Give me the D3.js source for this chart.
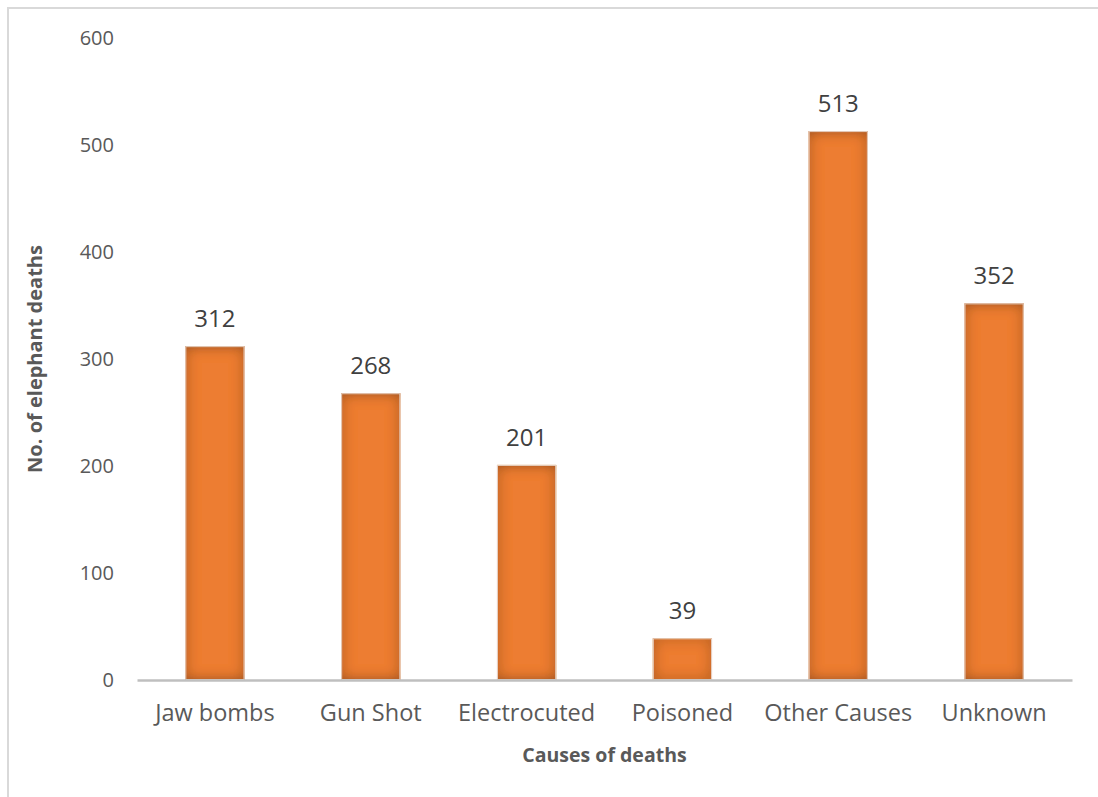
<!DOCTYPE html>
<html>
<head>
<meta charset="utf-8">
<script src="https://cdn.jsdelivr.net/npm/d3@7"></script>
<style>
  html, body { margin: 0; padding: 0; background: #fff; }
  svg { display: block; }
</style>
</head>
<body>
<svg id="chart" width="1098" height="797"></svg>
<script>
// Elephant deaths by cause
const categories = ["Jaw bombs", "Gun Shot", "Electrocuted", "Poisoned", "Other Causes", "Unknown"];
const deaths = [312, 268, 201, 39, 513, 352];
const yTicks = [0, 100, 200, 300, 400, 500, 600];

const svg = d3.select("#chart");
const W = 1098, H = 797;
const font = "'Open Sans', 'Liberation Sans', sans-serif";

// Outer chart frame
svg.append("rect")
  .attr("x", 8).attr("y", 8)
  .attr("width", W + 10).attr("height", H + 10)
  .attr("fill", "#fff")
  .attr("stroke", "#d9d9d9").attr("stroke-width", 2);

// Inner shadow for the bars
const defs = svg.append("defs");
const f = defs.append("filter").attr("id", "innerShade")
  .attr("x", "-10%").attr("y", "-10%").attr("width", "120%").attr("height", "120%");
f.append("feFlood").attr("flood-color", "#5a3218").attr("flood-opacity", 0.9).attr("result", "c");
f.append("feComposite").attr("in", "c").attr("in2", "SourceAlpha").attr("operator", "out").attr("result", "outside");
f.append("feGaussianBlur").attr("in", "outside").attr("stdDeviation", 7).attr("result", "blur");
f.append("feComposite").attr("in", "blur").attr("in2", "SourceAlpha").attr("operator", "in").attr("result", "shade");
const m = f.append("feMerge");
m.append("feMergeNode").attr("in", "SourceGraphic");
m.append("feMergeNode").attr("in", "shade");

const margin = { left: 137, right: 26, top: 38, bottom: 117 };
const x = d3.scaleBand()
  .domain(categories)
  .range([margin.left, W - margin.right])
  .paddingInner(0.62).paddingOuter(0.31);
const y = d3.scaleLinear()
  .domain([0, 600])
  .range([H - margin.bottom, margin.top]);

// Y axis tick labels (no line)
const yAxis = svg.append("g")
  .attr("transform", `translate(${margin.left},0)`)
  .call(d3.axisLeft(y).tickValues(yTicks).tickSize(0).tickPadding(23));
yAxis.select(".domain").remove();
yAxis.selectAll("text")
  .attr("font-family", font).attr("font-size", 20).attr("fill", "#595959");

// Bars
svg.append("g").selectAll("rect")
  .data(categories)
  .join("rect")
  .attr("x", d => x(d))
  .attr("y", (d, i) => y(deaths[i]))
  .attr("width", x.bandwidth())
  .attr("height", (d, i) => y(0) - y(deaths[i]))
  .attr("fill", "#ED7D31")
  .attr("filter", "url(#innerShade)");

svg.append("g").selectAll("rect")
  .data(categories)
  .join("rect")
  .attr("x", d => x(d) + 0.5)
  .attr("y", (d, i) => y(deaths[i]) + 0.5)
  .attr("width", x.bandwidth() - 1)
  .attr("height", (d, i) => y(0) - y(deaths[i]) - 1)
  .attr("fill", "none")
  .attr("stroke", "#e6d2c4").attr("stroke-width", 1);

// X axis
const xAxis = svg.append("g")
  .attr("transform", `translate(0,${y(0)})`)
  .call(d3.axisBottom(x).tickSize(0).tickPadding(24));
xAxis.select(".domain")
  .attr("stroke", "#bfbfbf").attr("stroke-width", 2.5);
xAxis.selectAll("text")
  .attr("font-family", font).attr("font-size", 23.5).attr("fill", "#595959");

// Value labels
svg.append("g").selectAll("text")
  .data(categories)
  .join("text")
  .attr("x", d => x(d) + x.bandwidth() / 2)
  .attr("y", (d, i) => y(deaths[i]) - 19)
  .attr("text-anchor", "middle")
  .attr("font-family", font).attr("font-size", 24).attr("fill", "#404040")
  .text((d, i) => deaths[i]);

// Axis titles
svg.append("text")
  .attr("x", (margin.left + W - margin.right) / 2)
  .attr("y", 762)
  .attr("text-anchor", "middle")
  .attr("font-family", font).attr("font-size", 19.5).attr("font-weight", "bold")
  .attr("fill", "#595959")
  .text("Causes of deaths");

svg.append("text")
  .attr("transform", `translate(42,${(margin.top + H - margin.bottom) / 2}) rotate(-90)`)
  .attr("text-anchor", "middle")
  .attr("font-family", font).attr("font-size", 20).attr("font-weight", "bold")
  .attr("fill", "#595959")
  .text("No. of elephant deaths");
</script>
</body>
</html>
